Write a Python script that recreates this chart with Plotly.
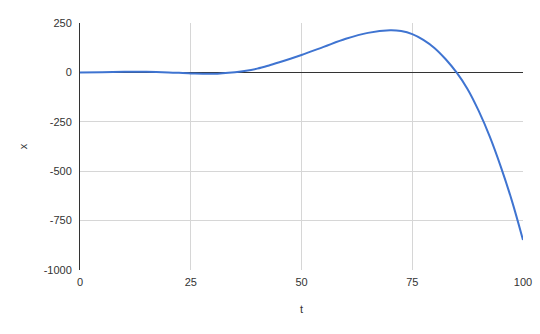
import plotly.graph_objects as go

t_values = [0, 5, 10, 15, 20, 25, 30, 35, 37.5, 40, 42.5, 45, 47.5, 50, 55, 60, 65, 70, 72.5, 75, 77.5, 80, 82.5, 85, 87.5, 90, 92.5, 95, 97.5, 100]
x_values = [0, 1, 3, 3, 0, -5, -7, 1, 8, 19, 34, 51, 69, 88, 129, 170, 200, 213, 209, 194, 165, 124, 68, 0, -85, -195, -325, -478, -650, -848]

x_ticks = [0, 25, 50, 75, 100]
y_ticks = [-1000, -750, -500, -250, 0, 250]

fig = go.Figure()
fig.add_trace(go.Scatter(
    x=t_values, y=x_values, mode="lines",
    line=dict(color="#3f74d1", width=2, shape="spline", smoothing=1.0),
    showlegend=False,
))

font = dict(family="Liberation Sans, Arial, sans-serif", size=11, color="#333333")

fig.update_layout(
    width=540, height=334,
    margin=dict(l=80, r=17, t=23, b=64),
    paper_bgcolor="white", plot_bgcolor="white",
    font=font,
    xaxis=dict(
        range=[0, 100], tickvals=x_ticks, ticktext=[str(v) for v in x_ticks],
        showgrid=True, gridcolor="#d6d6d6", gridwidth=1,
        zeroline=False, showline=False, automargin=False,
        title=dict(text="t", standoff=18, font=font),
        ticks="", ticklabelstandoff=4,
    ),
    yaxis=dict(
        range=[-1000, 250], tickvals=y_ticks, ticktext=[str(v) for v in y_ticks],
        showgrid=True, gridcolor="#d6d6d6", gridwidth=1,
        zeroline=True, zerolinecolor="#333333", zerolinewidth=1,
        showline=True, linecolor="#333333", linewidth=1, automargin=False,
        title=dict(text="x", standoff=13, font=font),
        ticks="", ticklabelstandoff=5,
    ),
)

fig.write_html("out.html")
